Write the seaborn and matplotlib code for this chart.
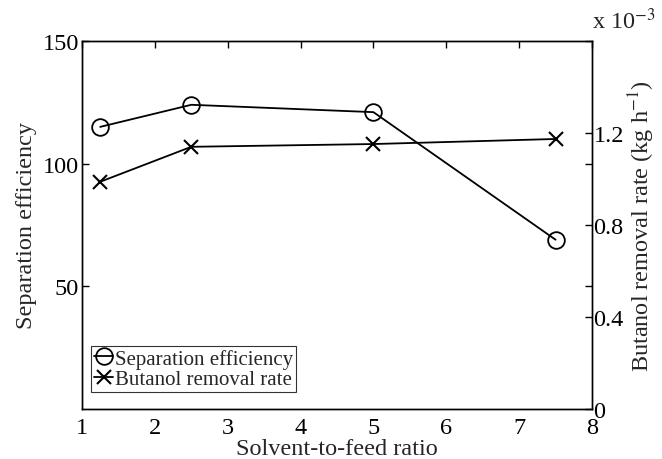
import matplotlib
matplotlib.use("Agg")
import matplotlib.pyplot as plt
import seaborn as sns
import pandas as pd

ratio = [1.25, 2.5, 5.0, 7.5]
separation_efficiency = [115.0, 124.0, 121.0, 69.0]
butanol_removal_rate = [0.988, 1.140, 1.152, 1.174]  # x 10^-3 kg/h

left_ticks = [50, 100, 150]
right_ticks = [0, 0.4, 0.8, 1.2]
right_tick_labels = ["0", "0.4", "0.8", "1.2"]
x_ticks = [1, 2, 3, 4, 5, 6, 7, 8]

sns.set_style("white")
plt.rcParams['font.family'] = ['Liberation Serif', 'DejaVu Serif']
plt.rcParams['mathtext.fontset'] = 'stix'
FS = 17.5

df = pd.DataFrame({"ratio": ratio, "sep": separation_efficiency, "rate": butanol_removal_rate})

fig = plt.figure(figsize=(6.62, 4.60), dpi=100)
ax = fig.add_axes([82 / 662, 1 - 410 / 460, (592 - 82) / 662, (410 - 42) / 460])
ax2 = ax.twinx()

sns.lineplot(data=df, x="ratio", y="sep", ax=ax, color="black", marker="o",
             markersize=12, markerfacecolor="none", markeredgecolor="black",
             markeredgewidth=1.3, linewidth=1.3, label="Separation efficiency", legend=False)
sns.lineplot(data=df, x="ratio", y="rate", ax=ax2, color="black", marker="x",
             markersize=10, markeredgecolor="black", markeredgewidth=1.5, linewidth=1.3,
             label="Butanol removal rate", legend=False)

ax.set_xlim(1, 8)
ax.set_ylim(0, 150)
ax2.set_ylim(0, 1.6)
ax.set_xticks(x_ticks)
ax.set_xticklabels([str(v) for v in x_ticks])
ax.set_yticks(left_ticks)
ax.set_yticklabels([str(v) for v in left_ticks])
ax2.set_yticks(right_ticks)
ax2.set_yticklabels(right_tick_labels)

for a in (ax, ax2):
    for s in a.spines.values():
        s.set_color("black")
        s.set_linewidth(1.0)
ax.tick_params(axis="both", direction="in", length=5, width=1, labelsize=FS,
               colors="black", top=True, right=True, labelright=False)
ax.tick_params(axis="x", pad=6)
ax.tick_params(axis="y", pad=2)
ax2.tick_params(axis="y", direction="in", length=5, width=1, labelsize=FS,
                colors="black", pad=1)

ax.set_xlabel("Solvent-to-feed ratio", fontsize=FS, labelpad=0)
ax.set_ylabel("Separation efficiency", fontsize=FS, labelpad=4)
ax2.set_ylabel("Butanol removal rate (kg h$^{-1}$)", fontsize=FS, labelpad=2)
ax2.text(1.0, 1.02, "x 10$^{-3}$", transform=ax2.transAxes, fontsize=FS,
         ha="left", va="bottom")

h1, l1 = ax.get_legend_handles_labels()
h2, l2 = ax2.get_legend_handles_labels()
leg = ax.legend(h1 + h2, l1 + l2, loc="lower left", bbox_to_anchor=(0.018, 0.045),
                fontsize=15, frameon=True, fancybox=False, handlelength=0.9,
                handletextpad=0.1, borderpad=0.15, labelspacing=0.05, borderaxespad=0)
leg.get_frame().set_edgecolor("black")
leg.get_frame().set_linewidth(0.8)

fig.savefig("out.png", dpi=100)
